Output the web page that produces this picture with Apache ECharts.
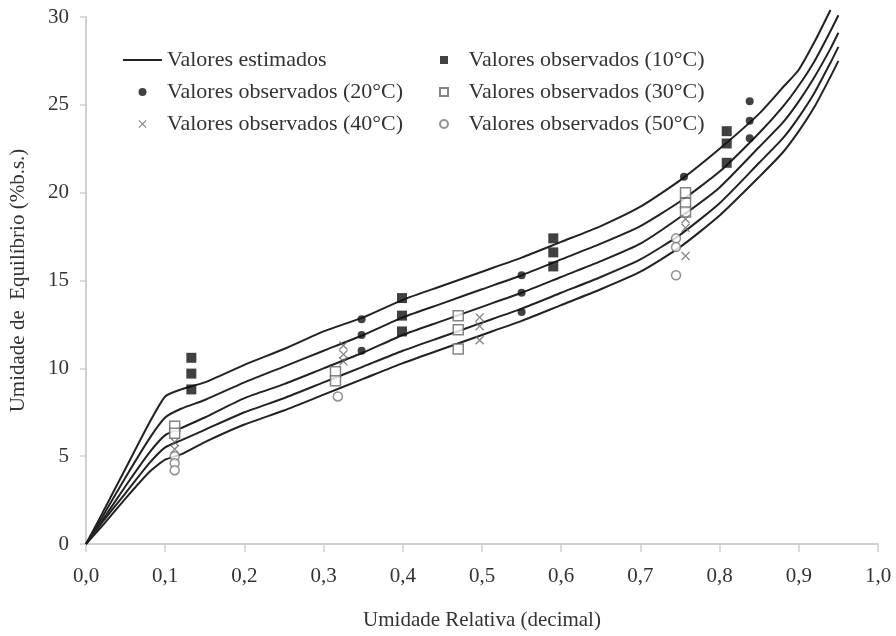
<!DOCTYPE html>
<html>
<head>
<meta charset="utf-8">
<script src="https://cdn.jsdelivr.net/npm/echarts@6/dist/echarts.min.js"></script>
<style>
  html, body { margin: 0; padding: 0; background: #fff; }
  #chart { width: 896px; height: 636px; }
</style>
</head>
<body>
<div id="chart"></div>
<script>
// ==============================
// data
// ==============================

// relative humidity grid for the fitted curves
const rhGrid = [0, 0.02, 0.05, 0.08, 0.10, 0.12, 0.15, 0.20, 0.25, 0.30, 0.35, 0.40, 0.45,
  0.50, 0.55, 0.60, 0.65, 0.70, 0.75, 0.80, 0.85, 0.88, 0.90, 0.92, 0.94, 0.95];

// estimated values, one array per temperature
const est10 = [0, 1.7, 4.3, 6.9, 8.4, 8.8, 9.2, 10.2, 11.1, 12.1, 12.9, 13.9, 14.7,
  15.5, 16.3, 17.2, 18.1, 19.2, 20.7, 22.5, 24.5, 26.0, 27.0, 28.6, 30.4, null];
const est20 = [0, 1.5, 3.8, 6.0, 7.2, 7.7, 8.2, 9.2, 10.1, 11.0, 11.9, 12.9, 13.7,
  14.5, 15.3, 16.2, 17.1, 18.1, 19.5, 21.2, 23.4, 24.9, 26.1, 27.5, 29.2, 30.1];
const est30 = [0, 1.3, 3.3, 5.2, 6.2, 6.6, 7.2, 8.3, 9.1, 10.0, 10.9, 11.9, 12.7,
  13.5, 14.3, 15.2, 16.1, 17.1, 18.6, 20.3, 22.6, 24.0, 25.2, 26.6, 28.2, 29.1];
const est40 = [0, 1.2, 2.9, 4.6, 5.5, 5.9, 6.5, 7.5, 8.3, 9.2, 10.1, 11.0, 11.8,
  12.6, 13.4, 14.3, 15.2, 16.2, 17.6, 19.4, 21.7, 23.1, 24.3, 25.7, 27.4, 28.3];
const est50 = [0, 1.0, 2.6, 4.1, 4.8, 5.1, 5.8, 6.8, 7.6, 8.5, 9.4, 10.3, 11.1,
  11.9, 12.7, 13.6, 14.5, 15.5, 16.9, 18.7, 20.9, 22.3, 23.5, 24.9, 26.6, 27.5];

// observed values
const obs10X = [0.133, 0.133, 0.133, 0.399, 0.399, 0.399, 0.59, 0.59, 0.59, 0.809, 0.809, 0.809];
const obs10Y = [10.6, 9.7, 8.8, 14.0, 13.0, 12.1, 17.4, 16.6, 15.8, 23.5, 22.8, 21.7];

const obs20X = [0.348, 0.348, 0.348, 0.55, 0.55, 0.55, 0.755, 0.838, 0.838, 0.838];
const obs20Y = [12.8, 11.9, 11.0, 15.3, 14.3, 13.2, 20.9, 25.2, 24.1, 23.1];

const obs30X = [0.112, 0.112, 0.315, 0.315, 0.47, 0.47, 0.47, 0.757, 0.757, 0.757];
const obs30Y = [6.7, 6.3, 9.8, 9.3, 13.0, 12.2, 11.1, 20.0, 19.4, 18.9];

const obs40X = [0.112, 0.112, 0.325, 0.325, 0.325, 0.497, 0.497, 0.497, 0.757, 0.757, 0.757];
const obs40Y = [5.8, 5.4, 11.3, 10.8, 10.4, 12.9, 12.4, 11.6, 18.5, 18.0, 16.4];

const obs50X = [0.112, 0.112, 0.112, 0.318, 0.745, 0.745, 0.745];
const obs50Y = [5.0, 4.6, 4.2, 8.4, 17.4, 16.9, 15.3];

const estName = 'Valores estimados';
const obsNames = ['Valores observados (10°C)', 'Valores observados (20°C)', 'Valores observados (30°C)',
  'Valores observados (40°C)', 'Valores observados (50°C)'];

// ==============================
// helpers
// ==============================

const FONT = 'Liberation Serif';
const TEXT = '#333';
const AXIS = '#cfcfcf';

function zip(xs, ys) {
  return xs.map((x, i) => [x, ys[i]]);
}

const squarePath = 'path://M0,0L10,0L10,10L0,10Z';
const crossPath = 'path://M0,1L1,0L5,4L9,0L10,1L6,5L10,9L9,10L5,6L1,10L0,9L4,5Z';
const dashPath = 'path://M0,0L40,0L40,2L0,2Z';

function lineSeries(values) {
  return {
    name: estName,
    type: 'line',
    symbol: 'none',
    smooth: 0.2,
    clip: false,
    lineStyle: { color: '#222', width: 2 },
    itemStyle: { color: '#222' },
    data: zip(rhGrid, values),
    z: 2
  };
}

function obsSeries(name, xs, ys, symbol, size, style) {
  return {
    name,
    type: 'scatter',
    symbol,
    symbolSize: size,
    itemStyle: style,
    data: zip(xs, ys),
    z: 3
  };
}

// ==============================
// chart
// ==============================

const chart = echarts.init(document.getElementById('chart'));

const legendBase = {
  orient: 'vertical',
  top: 44,
  itemWidth: 39,
  itemHeight: 8,
  itemGap: 10,
  selectedMode: false,
  textStyle: { fontFamily: FONT, fontSize: 22, color: TEXT, lineHeight: 22 }
};

chart.setOption({
  animation: false,
  backgroundColor: '#fff',
  legend: [
    Object.assign({}, legendBase, {
      left: 118,
      data: [
        { name: estName, icon: dashPath },
        { name: obsNames[1], icon: 'circle' },
        { name: obsNames[3], icon: crossPath }
      ]
    }),
    Object.assign({}, legendBase, {
      left: 434,
      data: [
        { name: obsNames[0], icon: squarePath },
        { name: obsNames[2], icon: squarePath },
        { name: obsNames[4], icon: 'circle' }
      ]
    })
  ],
  grid: { left: 86, right: 18, top: 17, bottom: 92 },
  xAxis: {
    type: 'value',
    min: 0,
    max: 1,
    interval: 0.1,
    name: 'Umidade Relativa (decimal)',
    nameLocation: 'middle',
    nameGap: 66,
    nameTextStyle: { fontFamily: FONT, fontSize: 21, color: TEXT },
    axisLine: { show: true, lineStyle: { color: AXIS, width: 2 } },
    axisTick: { show: true, length: 8, lineStyle: { color: AXIS, width: 1.5 } },
    splitLine: { show: false },
    axisLabel: {
      fontFamily: FONT,
      fontSize: 21,
      color: TEXT,
      margin: 22,
      formatter: v => v.toFixed(1).replace('.', ',')
    }
  },
  yAxis: {
    type: 'value',
    min: 0,
    max: 30,
    interval: 5,
    name: 'Umidade de  Equilíbrio (%b.s.)',
    nameLocation: 'middle',
    nameGap: 57,
    nameTextStyle: { fontFamily: FONT, fontSize: 21, color: TEXT },
    axisLine: { show: true, lineStyle: { color: AXIS, width: 2 } },
    axisTick: { show: true, length: 6, lineStyle: { color: AXIS, width: 1.5 } },
    splitLine: { show: false },
    axisLabel: { fontFamily: FONT, fontSize: 21, color: TEXT, margin: 17 }
  },
  series: [
    lineSeries(est10),
    lineSeries(est20),
    lineSeries(est30),
    lineSeries(est40),
    lineSeries(est50),
    obsSeries(obsNames[0], obs10X, obs10Y, squarePath, 10, { color: '#111' }),
    obsSeries(obsNames[1], obs20X, obs20Y, 'circle', 8, { color: '#111' }),
    obsSeries(obsNames[2], obs30X, obs30Y, squarePath, 10,
      { color: '#fff', borderColor: '#666', borderWidth: 1.5 }),
    obsSeries(obsNames[3], obs40X, obs40Y, crossPath, 9, { color: '#666' }),
    obsSeries(obsNames[4], obs50X, obs50Y, 'circle', 9,
      { color: '#fff', borderColor: '#777', borderWidth: 1.5 })
  ]
});

window.addEventListener('resize', () => chart.resize());
</script>
</body>
</html>
